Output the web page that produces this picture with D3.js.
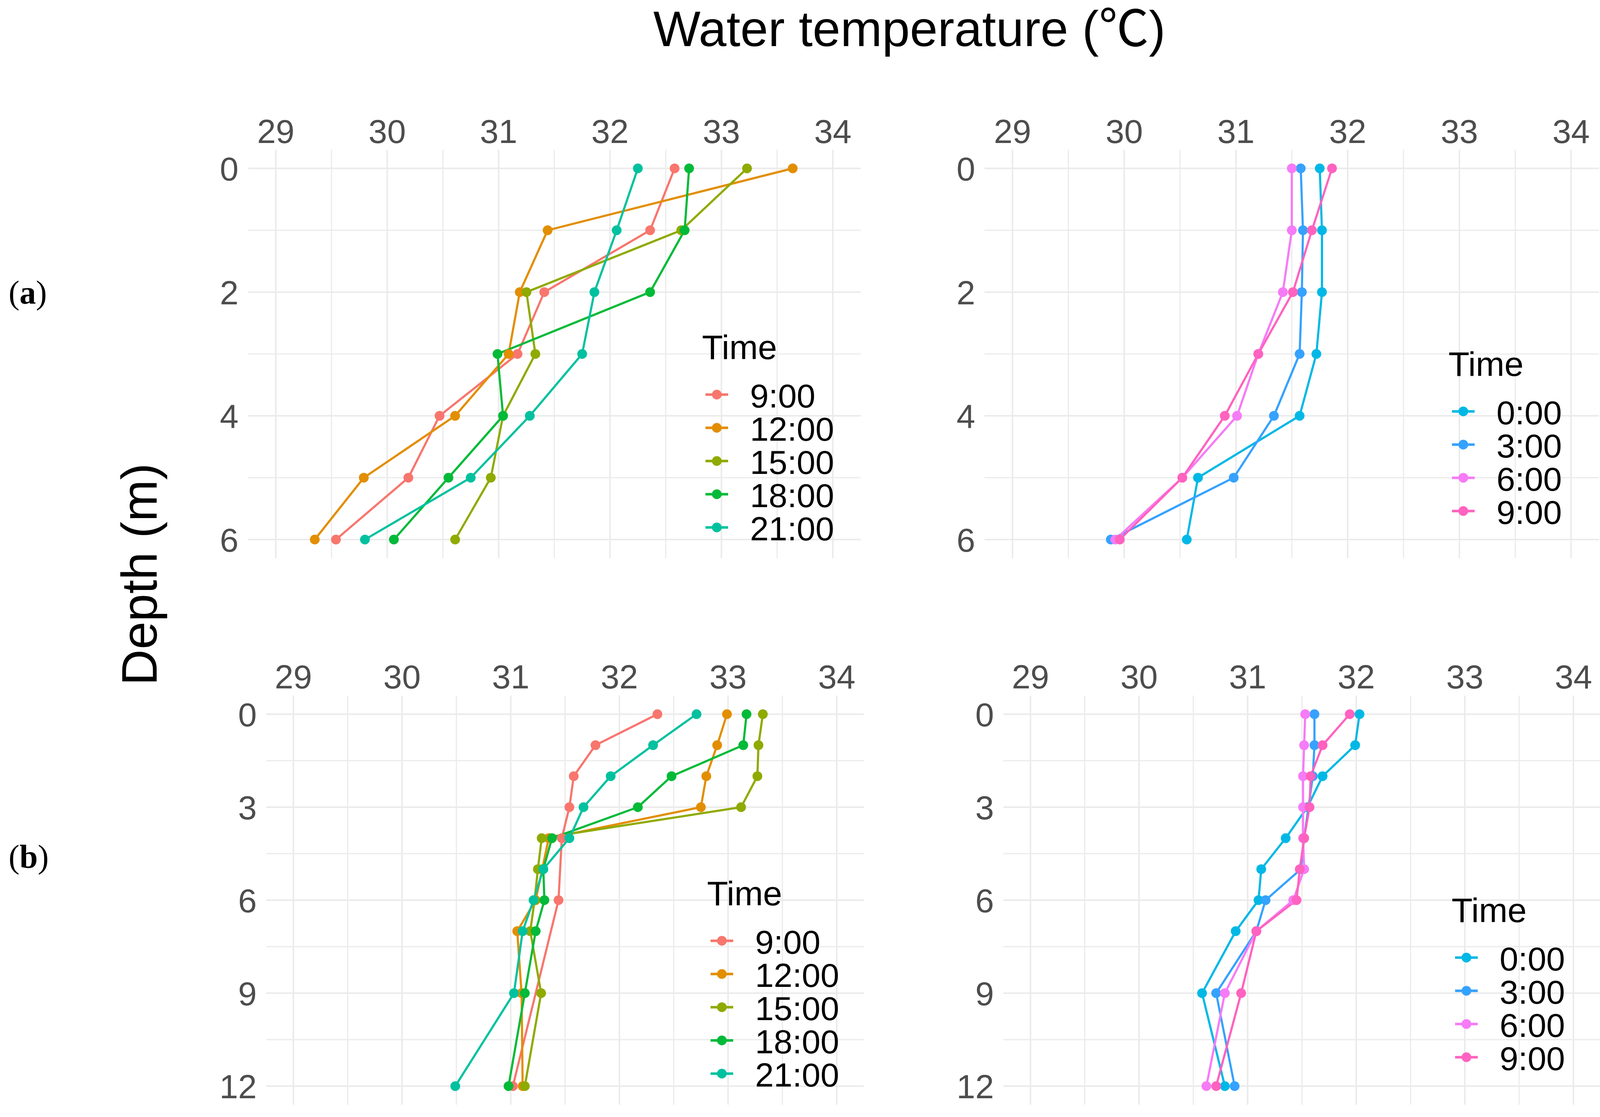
<!DOCTYPE html>
<html>
<head>
<meta charset="utf-8">
<script src="https://cdn.jsdelivr.net/npm/d3@7"></script>
<style>
  html, body { margin: 0; padding: 0; background: #ffffff; }
  svg { display: block; }
</style>
</head>
<body>
<script>
// ---------------- DATA ----------------
const xTicks = [29, 30, 31, 32, 33, 34];
const xMinor = [29.5, 30.5, 31.5, 32.5, 33.5];

const depthsA = [0, 1, 2, 3, 4, 5, 6];
const yTicksA = [0, 2, 4, 6];
const yMinorA = [1, 3, 5];

const depthsB = [0, 1, 2, 3, 4, 5, 6, 7, 9, 12];
const depthsB_900 = [0, 1, 2, 3, 4, 6, 12];
const yTicksB = [0, 3, 6, 9, 12];
const yMinorB = [1.5, 4.5, 7.5, 10.5];

const timesDay = ["9:00", "12:00", "15:00", "18:00", "21:00"];
const timesNight = ["0:00", "3:00", "6:00", "9:00"];

// (a) daytime
const a_0900 = [32.58, 32.36, 31.41, 31.17, 30.47, 30.19, 29.54];
const a_1200 = [33.64, 31.44, 31.19, 31.09, 30.61, 29.79, 29.35];
const a_1500 = [33.23, 32.64, 31.25, 31.33, 31.04, 30.93, 30.61];
const a_1800 = [32.71, 32.67, 32.36, 30.99, 31.04, 30.55, 30.06];
const a_2100 = [32.25, 32.06, 31.86, 31.75, 31.28, 30.75, 29.80];
// (a) night
const a_0000 = [31.75, 31.77, 31.77, 31.72, 31.57, 30.66, 30.56];
const a_0300 = [31.58, 31.60, 31.59, 31.57, 31.34, 30.98, 29.88];
const a_0600 = [31.50, 31.50, 31.42, 31.20, 31.01, 30.52, 29.92];
const a_0900n = [31.86, 31.68, 31.51, 31.20, 30.90, 30.52, 29.96];

// (b) daytime
const b_0900 = [32.35, 31.78, 31.58, 31.54, 31.47, 31.44, 31.02];
const b_1200 = [32.99, 32.90, 32.80, 32.75, 31.35, 31.29, 31.23, 31.06, 31.10, 31.11];
const b_1500 = [33.32, 33.28, 33.27, 33.12, 31.285, 31.25, 31.22, 31.18, 31.28, 31.13];
const b_1800 = [33.17, 33.14, 32.48, 32.17, 31.38, 31.30, 31.31, 31.23, 31.13, 30.98];
const b_2100 = [32.71, 32.31, 31.92, 31.67, 31.54, 31.30, 31.21, 31.11, 31.03, 30.49];
// (b) night
const b_0000 = [32.03, 31.99, 31.69, 31.55, 31.35, 31.125, 31.10, 30.89, 30.58, 30.79];
const b_0300 = [31.615, 31.615, 31.60, 31.56, 31.52, 31.49, 31.165, 31.08, 30.71, 30.88];
const b_0600 = [31.53, 31.52, 31.51, 31.51, 31.51, 31.52, 31.42, 31.08, 30.79, 30.62];
const b_0900n = [31.94, 31.69, 31.58, 31.57, 31.52, 31.48, 31.45, 31.08, 30.94, 30.71];

const dayColors = ["#F8766D", "#E28E00", "#8FAA00", "#00BA38", "#00C19F"];
const nightColors = ["#00B8E5", "#35A2FF", "#F67BF6", "#FF62BF"];

// ---------------- LAYOUT ----------------
const W = 4146, H = 2859;
const svg = d3.select("body").append("svg").attr("width", W).attr("height", H);
svg.append("rect").attr("width", W).attr("height", H).attr("fill", "#fff");

const SANS = "'Liberation Sans', Arial, 'Noto Sans CJK SC', sans-serif";
const SERIF = "'Liberation Serif', 'Times New Roman', serif";

function makeSeries(names, colors, depthLists, valueLists) {
  return names.map((n, i) => ({
    name: n, color: colors[i],
    pts: valueLists[i].map((v, j) => ({ t: v, d: depthLists[i][j] }))
  }));
}

const panels = [
  { px: [706, 2132], py: [431, 1381], yMax: 6, yTicks: yTicksA, yMinor: yMinorA,
    series: makeSeries(timesDay, dayColors, [depthsA, depthsA, depthsA, depthsA, depthsA],
                       [a_0900, a_1200, a_1500, a_1800, a_2100]),
    legend: [1797, 919] },
  { px: [2592, 4022], py: [431, 1381], yMax: 6, yTicks: yTicksA, yMinor: yMinorA,
    series: makeSeries(timesNight, nightColors, [depthsA, depthsA, depthsA, depthsA],
                       [a_0000, a_0300, a_0600, a_0900n]),
    legend: [3708, 962] },
  { px: [751, 2142], py: [1828, 2780], yMax: 12, yTicks: yTicksB, yMinor: yMinorB,
    series: makeSeries(timesDay, dayColors, [depthsB_900, depthsB, depthsB, depthsB, depthsB],
                       [b_0900, b_1200, b_1500, b_1800, b_2100]),
    legend: [1810, 2317] },
  { px: [2638, 4028], py: [1828, 2780], yMax: 12, yTicks: yTicksB, yMinor: yMinorB,
    series: makeSeries(timesNight, nightColors, [depthsB, depthsB, depthsB, depthsB],
                       [b_0000, b_0300, b_0600, b_0900n]),
    legend: [3716, 2360] }
];

const GRID = "#EBEBEB";

panels.forEach(p => {
  const x = d3.scaleLinear().domain([29, 34]).range(p.px);
  const y = d3.scaleLinear().domain([0, p.yMax]).range(p.py);
  const xLo = x(28.75), xHi = x(34.25);
  const yLo = y(-0.05 * p.yMax), yHi = y(1.05 * p.yMax);
  const g = svg.append("g");

  // minor grid
  g.selectAll(".xmin").data(xMinor).join("line")
    .attr("x1", d => x(d)).attr("x2", d => x(d)).attr("y1", yLo).attr("y2", yHi)
    .attr("stroke", GRID).attr("stroke-width", 3);
  g.selectAll(".ymin").data(p.yMinor).join("line")
    .attr("y1", d => y(d)).attr("y2", d => y(d)).attr("x1", xLo).attr("x2", xHi)
    .attr("stroke", GRID).attr("stroke-width", 3);
  // major grid
  g.selectAll(".xmaj").data(xTicks).join("line")
    .attr("x1", d => x(d)).attr("x2", d => x(d)).attr("y1", yLo).attr("y2", yHi)
    .attr("stroke", GRID).attr("stroke-width", 4);
  g.selectAll(".ymaj").data(p.yTicks).join("line")
    .attr("y1", d => y(d)).attr("y2", d => y(d)).attr("x1", xLo).attr("x2", xHi)
    .attr("stroke", GRID).attr("stroke-width", 4);

  // tick labels
  g.selectAll(".xl").data(xTicks).join("text")
    .attr("x", d => x(d)).attr("y", yLo - 18)
    .attr("text-anchor", "middle").attr("font-family", SANS).attr("font-size", 86)
    .attr("fill", "#4D4D4D").text(d => d);
  g.selectAll(".yl").data(p.yTicks).join("text")
    .attr("x", xLo - 24).attr("y", d => y(d)).attr("dy", "0.36em")
    .attr("text-anchor", "end").attr("font-family", SANS).attr("font-size", 86)
    .attr("fill", "#4D4D4D").text(d => d);

  // data: lines first, then points
  const line = d3.line().x(d => x(d.t)).y(d => y(d.d));
  p.series.forEach(s => {
    g.append("path").attr("d", line(s.pts)).attr("fill", "none")
      .attr("stroke", s.color).attr("stroke-width", 5.5).attr("stroke-linejoin", "round");
  });
  p.series.forEach(s => {
    g.selectAll(null).data(s.pts).join("circle")
      .attr("cx", d => x(d.t)).attr("cy", d => y(d.d)).attr("r", 12.5)
      .attr("fill", s.color);
  });

  // legend inside panel
  const [lx, ly] = p.legend;
  const lg = svg.append("g");
  lg.append("text").attr("x", lx).attr("y", ly).attr("font-family", SANS)
    .attr("font-size", 88).attr("fill", "#000").text("Time");
  p.series.forEach((s, i) => {
    const by = ly + 124 + i * 85;
    const cy = by - 33;
    lg.append("line").attr("x1", lx + 9).attr("x2", lx + 67).attr("y1", cy).attr("y2", cy)
      .attr("stroke", s.color).attr("stroke-width", 6.5);
    lg.append("circle").attr("cx", lx + 38).attr("cy", cy).attr("r", 12.5).attr("fill", s.color);
    lg.append("text").attr("x", lx + 123).attr("y", by).attr("font-family", SANS)
      .attr("font-size", 86).attr("fill", "#000").text(s.name);
  });
});

// Titles
svg.append("text").attr("x", 2328).attr("y", 118).attr("text-anchor", "middle")
  .attr("font-family", SANS).attr("font-size", 128).attr("fill", "#000")
  .text("Water temperature (℃)");

svg.append("text").attr("transform", "translate(401,1470) rotate(-90)")
  .attr("text-anchor", "middle").attr("font-family", SANS).attr("font-size", 128)
  .attr("fill", "#000").text("Depth (m)");

[["a", 777], ["b", 2221]].forEach(([lab, by]) => {
  const t = svg.append("text").attr("x", 22).attr("y", by)
    .attr("font-family", SERIF).attr("font-size", 84).attr("fill", "#000");
  t.append("tspan").text("(");
  t.append("tspan").attr("font-weight", "bold").text(lab);
  t.append("tspan").text(")");
});
</script>
</body>
</html>
